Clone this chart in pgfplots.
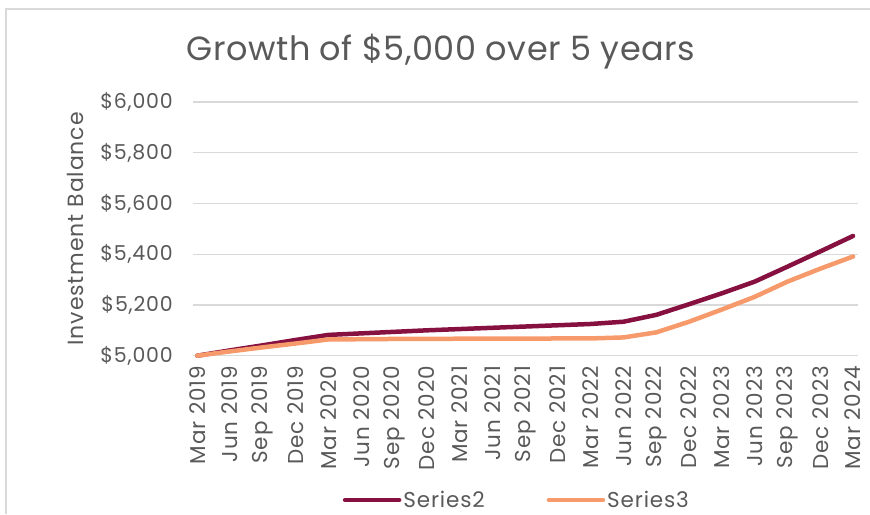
\documentclass[border=0pt]{standalone}
\usepackage{pgfplots}
\pgfplotsset{compat=1.18}
\usepackage{fontspec}
\setmainfont{Poppins}[LetterSpace=4]
\newfontfamily\titlefont{Poppins}[LetterSpace=1.5]
\definecolor{maroon}{HTML}{861040}
\definecolor{peach}{HTML}{F79A6B}
\definecolor{gridgray}{HTML}{D9D9D9}
\definecolor{txt}{HTML}{595959}
\begin{document}
\begin{tikzpicture}
\draw[gridgray, line width=2pt] (6pt,0pt) -- (6pt,505pt) -- (870pt,505pt);
\node[txt, font=\titlefont\fontsize{33.5}{38}\selectfont, anchor=center] at (441pt,462pt) {Growth of \$5,000 over 5 years};
\begin{axis}[
  at={(193pt,158.3pt)}, anchor=south west,
  scale only axis, width=665pt, height=253.7pt,
  xmin=-0.13, xmax=20.15, ymin=5000, ymax=6000,
  axis line style={draw=none},
  major tick length=0pt,
  ytick={5000,5200,5400,5600,5800,6000},
  yticklabels={{\$5,000},{\$5,200},{\$5,400},{\$5,600},{\$5,800},{\$6,000}},
  xtick={0,...,20},
  xticklabels={Mar 2019,Jun 2019,Sep 2019,Dec 2019,Mar 2020,Jun 2020,Sep 2020,Dec 2020,Mar 2021,Jun 2021,Sep 2021,Dec 2021,Mar 2022,Jun 2022,Sep 2022,Dec 2022,Mar 2023,Jun 2023,Sep 2023,Dec 2023,Mar 2024},
  ymajorgrids, grid style={gridgray, line width=1.3pt},
  yticklabel style={anchor=east, inner sep=0pt, xshift=-20pt, font=\fontsize{20.5}{24}\selectfont, text=txt},
  xticklabel style={yshift=-10pt, rotate=90, anchor=east, inner sep=0pt, font=\fontsize{21.5}{24}\selectfont, text=txt},
  ylabel={Investment Balance},
  ylabel style={at={(axis description cs:-0.177,0.5)}, anchor=center, font=\fontsize{22}{24}\selectfont, text=txt},
  legend style={at={(0.487,-0.569)}, anchor=center, draw=none, fill=none, font=\fontsize{21.5}{24}\selectfont, text=txt, legend columns=2, /tikz/every even column/.append style={column sep=60pt}, nodes={inner xsep=2pt}},
  legend image code/.code={\draw[#1, line width=4.5pt, line cap=round] (0pt,0pt) -- (54pt,0pt);},
  clip=false,
]
\addplot[maroon, line width=4.5pt, line join=round, line cap=round] coordinates {
(0,5000) (1,5021) (2,5041) (3,5062) (4,5082) (5,5088) (6,5094) (7,5100) (8,5105) (9,5110) (10,5115) (11,5120) (12,5125) (13,5134) (14,5161) (15,5203) (16,5246) (17,5292) (18,5351) (19,5411) (20,5472)};
\addlegendentry{Series2}
\addplot[peach, line width=4.5pt, line join=round, line cap=round] coordinates {
(0,5000) (1,5017) (2,5033) (3,5048) (4,5064) (5,5065) (6,5066) (7,5066) (8,5067) (9,5067) (10,5067) (11,5068) (12,5068) (13,5072) (14,5092) (15,5134) (16,5182) (17,5232) (18,5292) (19,5343) (20,5391)};
\addlegendentry{Series3}
\end{axis}
\pgfresetboundingbox
\path (0pt,0pt) rectangle (870pt,514pt);
\end{tikzpicture}
\end{document}
